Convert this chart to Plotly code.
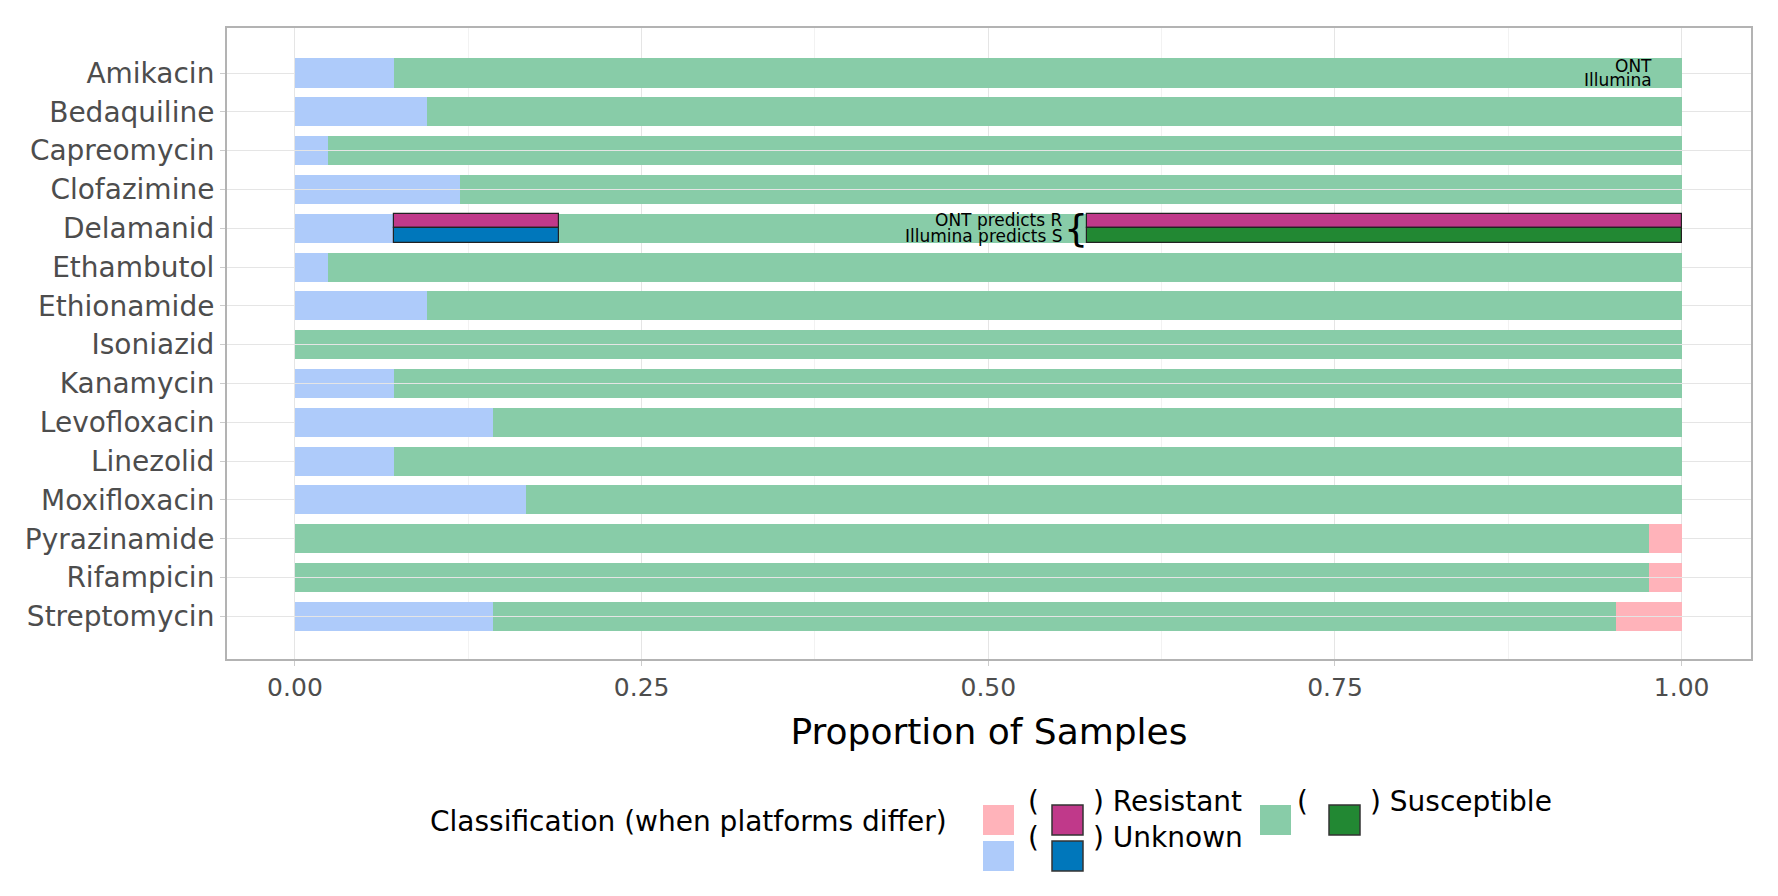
import plotly.graph_objects as go

drugs = ["Amikacin", "Bedaquiline", "Capreomycin", "Clofazimine", "Delamanid",
         "Ethambutol", "Ethionamide", "Isoniazid", "Kanamycin", "Levofloxacin",
         "Linezolid", "Moxifloxacin", "Pyrazinamide", "Rifampicin", "Streptomycin"]
n_samples = 42
unknown_n = [3, 4, 1, 5, 3, 1, 4, 0, 3, 6, 3, 7, 0, 0, 6]
resistant_n = [0, 0, 0, 0, 0, 0, 0, 0, 0, 0, 0, 0, 1, 1, 2]
# discordant counts (Delamanid only): ONT R vs Illumina Unknown, ONT R vs Illumina S
disc_ru_n = [0, 0, 0, 0, 5, 0, 0, 0, 0, 0, 0, 0, 0, 0, 0]
disc_rs_n = [0, 0, 0, 0, 18, 0, 0, 0, 0, 0, 0, 0, 0, 0, 0]

colors = {
    "R": "#FFB3BA", "R_d": "#C0398A",
    "U": "#AECBFA", "U_d": "#0077BB",
    "S": "#88CCA8", "S_d": "#228833",
}

fig = go.Figure()
ypos = list(range(len(drugs)))


def add_seg(lengths, bases, offset, color, dark):
    widths = [1.2 if (dark and l > 0) else 0 for l in lengths]
    fig.add_trace(go.Bar(
        y=[y + offset for y in ypos], x=lengths, base=bases, orientation="h",
        width=0.37, marker=dict(color=color, line=dict(color="#222222", width=widths)),
        showlegend=False, hoverinfo="skip"))


for plat, off in [("ONT", -0.19), ("Illumina", 0.19)]:
    b = [0.0] * len(drugs)
    segs = [
        (unknown_n, "U", False),
        (disc_ru_n, "R_d" if plat == "ONT" else "U_d", True),
        ([n_samples - u - r - d1 - d2 for u, r, d1, d2 in zip(unknown_n, resistant_n, disc_ru_n, disc_rs_n)], "S", False),
        (disc_rs_n, "R_d" if plat == "ONT" else "S_d", True),
        (resistant_n, "R", False),
    ]
    for counts, key, dark in segs:
        lens = [c / n_samples for c in counts]
        add_seg(lens, list(b), off, colors[key], dark)
        b = [bb + l for bb, l in zip(b, lens)]

annos = [
    dict(x=0.98, y=-0.19, text="ONT", xanchor="right"),
    dict(x=0.98, y=0.19, text="Illumina", xanchor="right"),
    dict(x=0.555, y=4 - 0.2, text="ONT predicts R", xanchor="right"),
    dict(x=0.555, y=4 + 0.19, text="Illumina predicts S", xanchor="right"),
]
for a in annos:
    fig.add_annotation(xref="x", yref="y", showarrow=False, yanchor="middle",
                       font=dict(size=17, color="black"), **a)
fig.add_annotation(x=0.563, y=4, xref="x", yref="y", text="{", showarrow=False,
                   font=dict(size=38, color="black"))

# custom legend, positions in pixels converted to plot-domain paper coords
W, H = 1778, 896
L, R, T, B = 219, 35, 20, 245
px = lambda x: (x - L) / (W - L - R)
py = lambda y: (H - B - y) / (H - T - B)
leg = [
    (975, 812, "R", "R_d", ") Resistant"),
    (1252, 812, "S", "S_d", ") Susceptible"),
    (975, 848, "U", "U_d", ") Unknown"),
]
for x0, yc, light, dark, label in leg:
    fig.add_shape(type="rect", xref="paper", yref="paper", x0=px(x0), x1=px(x0 + 31),
                  y0=py(yc + 15), y1=py(yc - 15), fillcolor=colors[light], line=dict(width=0))
    fig.add_shape(type="rect", xref="paper", yref="paper", x0=px(x0 + 69), x1=px(x0 + 100),
                  y0=py(yc + 15), y1=py(yc - 15), fillcolor=colors[dark], line=dict(color="#333333", width=1.5))
    fig.add_annotation(x=px(x0 + 50), y=py(yc), xref="paper", yref="paper", text="(",
                       showarrow=False, font=dict(size=28, color="black"))
    fig.add_annotation(x=px(x0 + 108), y=py(yc), xref="paper", yref="paper", text=label,
                       xanchor="left", showarrow=False, font=dict(size=28, color="black"))
fig.add_annotation(x=px(941), y=py(832), xref="paper", yref="paper", xanchor="right",
                   text="Classification (when platforms differ)", showarrow=False,
                   font=dict(size=28, color="black"))

fig.update_layout(
    width=W, height=H, barmode="overlay", bargap=0,
    plot_bgcolor="white", paper_bgcolor="white",
    font=dict(family="DejaVu Sans"),
    margin=dict(l=L, r=R, t=T, b=B),
    xaxis=dict(range=[-0.049, 1.05], tickvals=[0, 0.25, 0.5, 0.75, 1.0],
               ticktext=["0.00", "0.25", "0.50", "0.75", "1.00"],
               tickfont=dict(size=25, color="#4d4d4d"), showgrid=True, gridcolor="#e5e5e5",
               minor=dict(dtick=0.125, tick0=0, showgrid=True, gridcolor="#f2f2f2"),
               zeroline=False, showline=True, mirror=True, linecolor="#b3b3b3", linewidth=2,
               ticks="outside", tickcolor="#cccccc", ticklen=5,
               title=dict(text="Proportion of Samples", font=dict(size=36, color="black"), standoff=18)),
    yaxis=dict(range=[15.1, -1.16], tickvals=ypos, ticktext=drugs,
               tickfont=dict(size=28, color="#4d4d4d"), showgrid=True, gridcolor="#e5e5e5",
               zeroline=False, showline=True, mirror=True, linecolor="#b3b3b3", linewidth=2,
               ticks="outside", tickcolor="#cccccc", ticklen=5),
)

fig.write_html("out.html")
